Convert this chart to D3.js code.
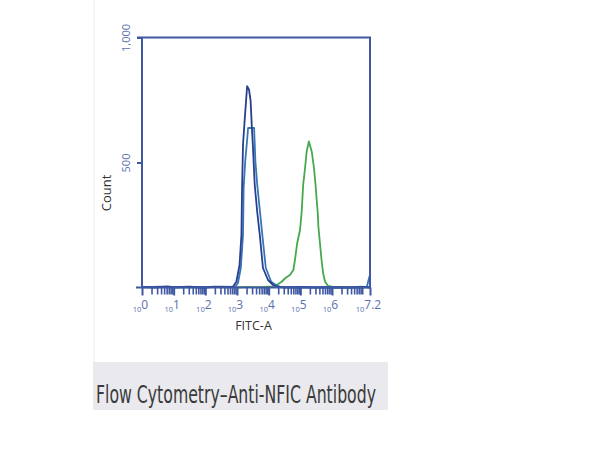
<!DOCTYPE html>
<html><head><meta charset="utf-8">
<script src="https://cdn.jsdelivr.net/npm/d3@7"></script>
<style>html,body{margin:0;padding:0;background:#fff;}svg{display:block;}</style>
</head><body>
<svg id="chart" width="600" height="450"></svg>
<script>
// Log10 exponents (FITC-A) and counts
const navyExp   = [0, 0.4, 0.8, 1.0, 1.5, 1.9, 2.3, 2.6, 2.87, 2.98, 3.08, 3.14, 3.16, 3.19, 3.24, 3.32, 3.38, 3.43, 3.47, 3.50, 3.56, 3.64, 3.72, 3.82, 3.98, 4.14, 4.30, 4.6, 5.0, 5.5, 6.0, 6.5, 7.0, 7.2];
const navyCount = [2, 0, 4, 1, 3, 0, 3, 1, 3, 23, 90, 210, 398, 571, 666, 805, 791, 746, 638, 571, 410, 300, 210, 78, 30, 10, 2, 0, 2, 0, 1, 0, 2, 0];
const blueExp   = [0, 0.6, 1.1, 1.6, 2.1, 2.5, 2.94, 3.03, 3.12, 3.19, 3.21, 3.26, 3.32, 3.35, 3.44, 3.54, 3.58, 3.64, 3.80, 3.91, 4.08, 4.23, 4.39, 4.8, 5.3, 5.8, 6.3, 6.8, 7.10, 7.17, 7.2];
const blueCount = [1, 3, 0, 2, 1, 3, 2, 18, 78, 210, 398, 506, 590, 638, 638, 638, 506, 410, 210, 78, 23, 10, 2, 1, 0, 2, 0, 1, 2, 38, 50];
const greenExp   = [2.9, 3.3, 3.7, 4.0, 4.14, 4.30, 4.41, 4.52, 4.67, 4.78, 4.83, 4.90, 4.99, 5.04, 5.06, 5.09, 5.15, 5.20, 5.27, 5.36, 5.43, 5.48, 5.52, 5.55, 5.57, 5.62, 5.67, 5.72, 5.78, 5.88, 6.09, 6.3, 6.6, 6.9, 7.2];
const greenCount = [0, 2, 1, 3, 3, 14, 23, 37, 50, 70, 110, 177, 230, 299, 344, 411, 479, 544, 584, 544, 479, 411, 344, 299, 244, 177, 110, 57, 23, 6, 0, 2, 0, 3, 1];
const majorExps = [0, 1, 2, 3, 4, 5, 6, 7.2];
const majorLabels = ["0", "1", "2", "3", "4", "5", "6", "7.2"];
const yTicks = [500, 1000];

const svg = d3.select("#chart");
const L = 142, R = 370, T = 37.5, B = 287.5;
const x = d3.scaleLog().domain([1, Math.pow(10, 7.2)]).range([L, R]);
const y = d3.scaleLinear().domain([0, 1000]).range([B, T]);
const axisCol = "#3f58a3", labCol = "#5a6fae";

// faint page guide and caption box
svg.append("line").attr("x1", 94).attr("x2", 94).attr("y1", 0).attr("y2", 362)
  .attr("stroke", "#ececec").attr("stroke-width", 1);
svg.append("rect").attr("x", 93).attr("y", 362).attr("width", 295).attr("height", 48).attr("fill", "#e9e9ee");
svg.append("text").attr("x", 96).attr("y", 403)
  .attr("font-family", "'Liberation Sans Narrow','DejaVu Sans Condensed',sans-serif")
  .attr("font-size", 24).attr("fill", "#3a3a3a")
  .attr("textLength", 280).attr("lengthAdjust", "spacingAndGlyphs")
  .text("Flow Cytometry\u2013Anti-NFIC Antibody");

// minor and major ticks under baseline
const minorVals = [];
for (let d = 0; d < 8; d++) for (let m = 2; m <= 9; m++) {
  const v = m * Math.pow(10, d);
  if (v < Math.pow(10, 7.2)) minorVals.push(v);
}
const gMinor = svg.append("g").attr("transform", `translate(0,${B})`)
  .call(d3.axisBottom(x).tickValues(minorVals).tickSize(7).tickSizeOuter(0).tickFormat(""));
gMinor.select(".domain").remove();
gMinor.selectAll("line").attr("stroke", axisCol).attr("stroke-width", 1.6);
const gMajor = svg.append("g").attr("transform", `translate(0,${B})`)
  .call(d3.axisBottom(x).tickValues(majorExps.map(e => Math.pow(10, e))).tickSize(8).tickSizeOuter(0).tickFormat(""));
gMajor.select(".domain").remove();
gMajor.selectAll("line").attr("stroke", axisCol).attr("stroke-width", 2);

// tick labels
majorExps.forEach((e, i) => {
  const t = svg.append("text").attr("x", x(Math.pow(10, e)) - 1.5).attr("y", 312)
    .attr("text-anchor", "middle").attr("font-family", "'Open Sans',sans-serif").attr("fill", labCol);
  t.append("tspan").attr("font-size", 7.5).text("10");
  t.append("tspan").attr("font-size", 12).attr("dy", -3.5).text(majorLabels[i]);
});

// y ticks
const gy = svg.append("g").attr("transform", `translate(${L},0)`)
  .call(d3.axisLeft(y).tickValues(yTicks).tickSize(5).tickSizeOuter(0).tickFormat(d3.format(",")));
gy.select(".domain").remove();
gy.selectAll("line").attr("stroke", axisCol).attr("stroke-width", 2);
gy.selectAll("text").attr("transform", "rotate(-90)").attr("x", 0).attr("y", -12.5).attr("dy", 0)
  .attr("text-anchor", "middle").attr("font-family", "'Open Sans',sans-serif").attr("font-size", 11)
  .attr("fill", labCol);

// axis titles
svg.append("text").attr("x", 253.5).attr("y", 330).attr("text-anchor", "middle")
  .attr("font-family", "'Open Sans',sans-serif").attr("font-size", 12.5).attr("fill", "#333")
  .text("FITC-A");
svg.append("text").attr("transform", "translate(111,193) rotate(-90)").attr("text-anchor", "middle")
  .attr("font-family", "'Open Sans',sans-serif").attr("font-size", 13).attr("fill", "#333")
  .text("Count");

// histograms
const line = d3.line().x(d => x(Math.pow(10, d[0]))).y(d => y(d[1])).curve(d3.curveLinear);
const series = [
  {e: greenExp, c: greenCount, col: "#46a84c"},
  {e: blueExp, c: blueCount, col: "#3776b6"},
  {e: navyExp, c: navyCount, col: "#283f8e"}
];
series.forEach(s => {
  svg.append("path").datum(s.e.map((v, i) => [v, s.c[i]]))
    .attr("d", line).attr("fill", "none").attr("stroke", s.col).attr("stroke-width", 1.8)
    .attr("stroke-linejoin", "round");
});

// frame
svg.append("path")
  .attr("d", `M${L - 5},${T}H${R}V${B + 1}M${L},${T}V${B}M${L - 6},${B}H${R + 1}`)
  .attr("fill", "none").attr("stroke", axisCol).attr("stroke-width", 2);
</script>
</body></html>
